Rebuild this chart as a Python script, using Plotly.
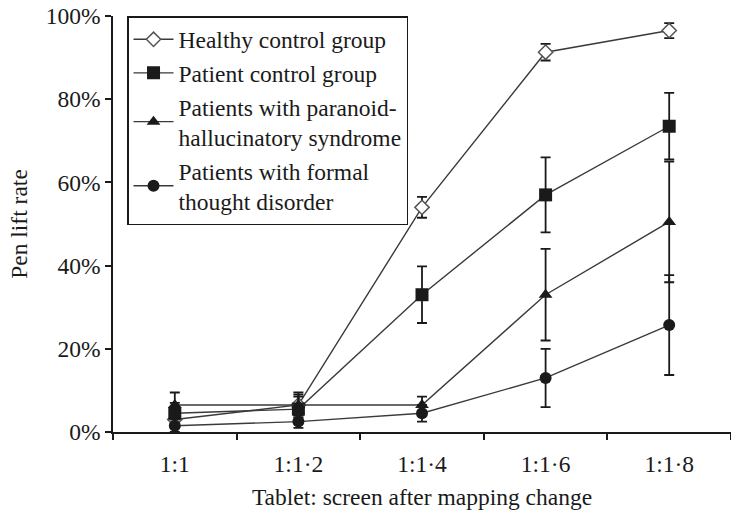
import plotly.graph_objects as go

categories = ["1:1", "1:1·2", "1:1·4", "1:1·6", "1:1·8"]

healthy = [3.0, 6.5, 54.0, 91.3, 96.5]
healthy_err = [2.0, 3.0, 2.5, 2.0, 1.8]

patient = [4.5, 5.5, 33.0, 57.0, 73.5]
patient_err = [2.5, 3.0, 6.8, 9.0, 8.0]

paranoid = [6.5, 6.5, 6.5, 33.0, 50.5]
paranoid_err = [3.0, 2.5, 2.0, 11.0, 14.5]

formal = [1.5, 2.5, 4.5, 13.0, 25.7]
formal_err = [1.5, 1.5, 2.0, 7.0, 12.0]

series_names = [
    "Healthy control group",
    "Patient control group",
    "Patients with paranoid-<br>hallucinatory syndrome",
    "Patients with formal<br>thought disorder",
]

y_ticks = [0, 20, 40, 60, 80, 100]
y_tick_labels = [f"{v}%" for v in y_ticks]

FONT = "Liberation Serif"
INK = "#1a1a1a"
LINE = "#3a3a3a"
FS = 23.5

fig = go.Figure()

specs = [
    (healthy, healthy_err, series_names[0], "diamond-open", 11),
    (patient, patient_err, series_names[1], "square", 13),
    (paranoid, paranoid_err, series_names[2], "triangle-up", 12),
    (formal, formal_err, series_names[3], "circle", 12),
]

for vals, errs, name, sym, size in specs:
    if sym == "diamond-open":
        marker = dict(symbol="diamond", size=size, color="white",
                      line=dict(color="#555555", width=1.5))
    else:
        marker = dict(symbol=sym, size=size, color=INK, line=dict(width=0))
    fig.add_trace(go.Scatter(
        x=categories, y=vals, name=name, mode="lines+markers",
        line=dict(color=LINE, width=1.4),
        marker=marker,
        error_y=dict(type="data", array=errs, visible=True,
                     color=INK, thickness=1.8, width=5),
        cliponaxis=False,
    ))

fig.update_layout(
    width=731, height=510,
    margin=dict(l=113, r=0, t=16, b=78),
    paper_bgcolor="white", plot_bgcolor="white",
    font=dict(family=FONT, size=FS, color=INK),
    showlegend=True,
    legend=dict(
        x=0.0227, y=1.0, xanchor="left", yanchor="top",
        bordercolor=INK, borderwidth=1.5, bgcolor="white",
        font=dict(family=FONT, size=FS, color=INK),
        tracegroupgap=0, itemwidth=40,
    ),
    xaxis=dict(
        type="category", range=[-0.5, 4.5],
        showline=True, linecolor=INK, linewidth=1.5,
        ticks="outside", tickson="boundaries", ticklen=6, tickwidth=1.5,
        tickcolor=INK, showgrid=False, zeroline=False,
        ticklabelstandoff=10,
        tickfont=dict(family=FONT, size=FS, color=INK),
        title=dict(text="Tablet: screen after mapping change",
                   font=dict(family=FONT, size=FS, color=INK), standoff=14),
    ),
    yaxis=dict(
        range=[0, 100], tickvals=y_ticks, ticktext=y_tick_labels,
        showline=True, linecolor=INK, linewidth=1.5,
        ticks="outside", ticklen=6, tickwidth=1.5, tickcolor=INK,
        showgrid=False, zeroline=False,
        tickfont=dict(family=FONT, size=FS, color=INK),
        title=dict(text="Pen lift rate",
                   font=dict(family=FONT, size=FS, color=INK), standoff=11),
    ),
)

fig.write_html("out.html")
